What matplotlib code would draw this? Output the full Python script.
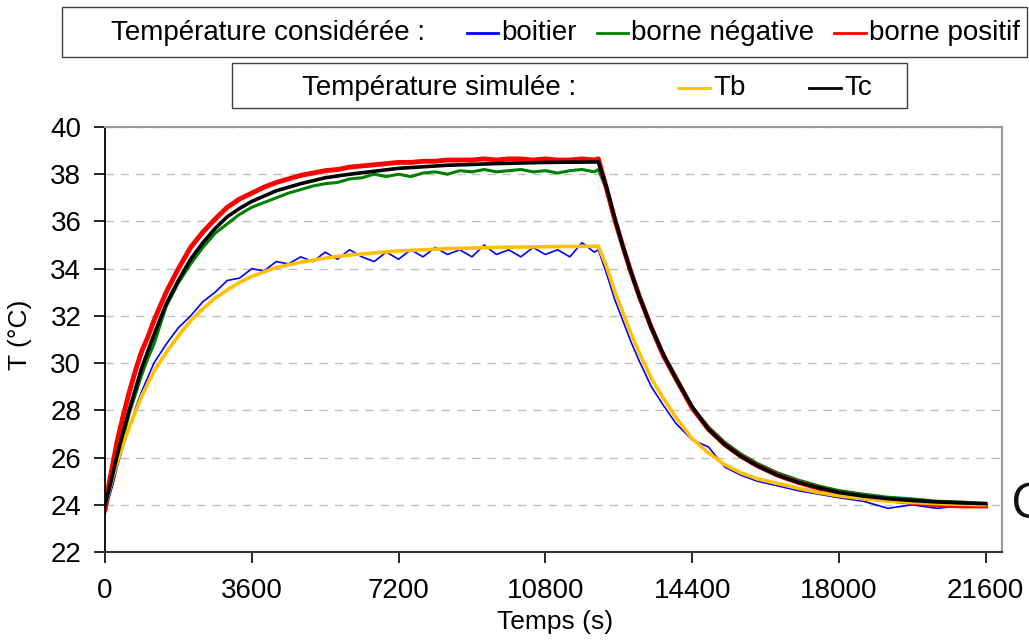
import matplotlib
matplotlib.use('Agg')
import matplotlib.pyplot as plt
from matplotlib.patches import Rectangle
from matplotlib.lines import Line2D

plt.rcParams['font.family'] = ['Liberation Sans', 'DejaVu Sans']

# temps des mesures (s)
t_mes = [0, 100, 200, 300, 450, 600, 750, 900, 1050, 1200,
         1500, 1800, 2100, 2400, 2700, 3000, 3300, 3600, 3900, 4200,
         4500, 4800, 5100, 5400, 5700, 6000, 6300, 6600, 6900, 7200,
         7500, 7800, 8100, 8400, 8700, 9000, 9300, 9600, 9900, 10200,
         10500, 10800, 11100, 11400, 11700, 12000, 12100,
         12300, 12500, 12700, 12900, 13100, 13400, 13700, 14000, 14400,
         14800, 15200, 15600, 16000, 16500, 17000, 17500, 18000, 18600, 19200,
         19800, 20400, 21000, 21600]

boitier = [23.6, 24.3, 24.9, 25.6, 26.5, 27.3, 28.1, 28.8, 29.4, 30.0,
           30.8, 31.5, 32.0, 32.6, 33.0, 33.5, 33.6, 34.0, 33.9, 34.3,
           34.2, 34.5, 34.3, 34.7, 34.4, 34.8, 34.5, 34.3, 34.7, 34.4,
           34.8, 34.5, 34.9, 34.6, 34.8, 34.5, 35.0, 34.6, 34.8, 34.5,
           34.9, 34.6, 34.8, 34.5, 35.1, 34.7, 34.8,
           33.8, 32.7, 31.8, 30.9, 30.1, 29.0, 28.2, 27.45, 26.75,
           26.45, 25.6, 25.25, 25.0, 24.8, 24.6, 24.45, 24.3, 24.15, 23.85,
           24.0, 23.85, 23.95, 23.95]

borne_neg = [23.9, 24.5, 25.2, 25.9, 26.9, 27.9, 28.7, 29.5, 30.2, 30.8,
             32.4, 33.4, 34.2, 34.9, 35.5, 35.9, 36.3, 36.6, 36.8, 37.0,
             37.2, 37.35, 37.5, 37.6, 37.65, 37.8, 37.85, 38.0, 37.9, 38.0,
             37.9, 38.05, 38.1, 38.0, 38.15, 38.1, 38.2, 38.1, 38.15, 38.2,
             38.1, 38.15, 38.05, 38.15, 38.2, 38.1, 38.2,
             37.35, 36.1, 34.95, 33.9, 32.9, 31.55, 30.35, 29.45, 28.15,
             27.3, 26.65, 26.15, 25.75, 25.35, 25.05, 24.8, 24.6, 24.45, 24.32,
             24.25, 24.15, 24.12, 24.05]

borne_pos = [23.8, 24.9, 25.8, 26.7, 27.8, 28.8, 29.7, 30.5, 31.1, 31.8,
             33.0, 34.0, 34.9, 35.55, 36.1, 36.6, 36.95, 37.2, 37.45, 37.65,
             37.8, 37.95, 38.05, 38.15, 38.2, 38.3, 38.35, 38.4, 38.45, 38.5,
             38.5, 38.55, 38.55, 38.6, 38.6, 38.6, 38.65, 38.6, 38.65, 38.65,
             38.6, 38.65, 38.6, 38.6, 38.65, 38.6, 38.65,
             37.4, 36.1, 34.95, 33.85, 32.85, 31.5, 30.3, 29.35, 28.1,
             27.2, 26.55, 26.05, 25.65, 25.25, 24.95, 24.7, 24.5, 24.33, 24.2,
             24.1, 24.0, 23.95, 23.95]

# temps de la simulation (s)
t_sim = [0, 150, 300, 450, 600, 900, 1200, 1500, 1800, 2100, 2400, 2700,
         3000, 3300, 3600, 4200, 4800, 5400, 6000, 7200, 8400, 9600, 10800, 12100,
         12300, 12500, 12700, 12900, 13100, 13400, 13700, 14000, 14400, 14800,
         15200, 15600, 16000, 16500, 17000, 17500, 18000, 18600, 19200, 19800,
         20400, 21000, 21600]

Tb = [24.0, 24.9, 25.8, 26.6, 27.3, 28.6, 29.65, 30.45, 31.15, 31.8, 32.3, 32.75,
      33.1, 33.42, 33.67, 34.05, 34.27, 34.45, 34.58, 34.75, 34.85, 34.9, 34.93, 34.95,
      34.1, 33.05, 32.15, 31.25, 30.45, 29.35, 28.5, 27.7, 26.8, 26.2,
      25.7, 25.35, 25.1, 24.9, 24.7, 24.52, 24.38, 24.25, 24.16, 24.1,
      24.05, 24.02, 24.0]

Tc = [24.0, 25.0, 26.1, 27.1, 28.05, 29.8, 31.2, 32.5, 33.5, 34.4, 35.1, 35.7,
      36.2, 36.55, 36.85, 37.3, 37.6, 37.85, 38.0, 38.25, 38.38, 38.45, 38.5, 38.52,
      37.45, 36.15, 34.95, 33.85, 32.85, 31.5, 30.35, 29.35, 28.15, 27.2,
      26.55, 26.05, 25.65, 25.25, 24.95, 24.72, 24.52, 24.37, 24.26, 24.18,
      24.12, 24.08, 24.05]

x_ticks = [0, 3600, 7200, 10800, 14400, 18000, 21600]
y_ticks = [22, 24, 26, 28, 30, 32, 34, 36, 38, 40]

W, H = 1029, 640
fig = plt.figure(figsize=(W / 100, H / 100), dpi=100)
ax = fig.add_axes([105 / W, 1 - 552 / H, (1002 - 105) / W, (552 - 127) / H])

l_b, = ax.plot(t_mes, boitier, color='#0000FF', lw=1.2)
l_n, = ax.plot(t_mes, borne_neg, color='#008000', lw=2.2)
l_p, = ax.plot(t_mes, borne_pos, color='#FF0000', lw=3.5)
l_tb, = ax.plot(t_sim, Tb, color='#FFC000', lw=2.6)
l_tc, = ax.plot(t_sim, Tc, color='#000000', lw=2.6)

ax.set_xlim(0, 22000)
ax.set_ylim(22, 40)
ax.set_xticks(x_ticks)
ax.set_yticks(y_ticks)
ax.tick_params(axis='both', direction='out', length=8, width=1.2, labelsize=20)
ax.tick_params(axis='x', pad=11)
ax.tick_params(axis='y', pad=9)
ax.yaxis.grid(True, color='#c0c0c0', linestyle=(0, (6, 5)), lw=1)
ax.set_axisbelow(True)

for s in ['top', 'right']:
    ax.spines[s].set_color('#999999')
    ax.spines[s].set_linewidth(1.5)
ax.spines['left'].set_color('black')
ax.spines['bottom'].set_color('#333333')
ax.spines['left'].set_linewidth(1.3)
ax.spines['bottom'].set_linewidth(1.5)

ax.set_xlabel('Temps (s)', fontsize=19)
ax.xaxis.set_label_coords((555 - 105) / 897, (552 - 622) / 425)
ax.xaxis.label.set_va('center')
ax.set_ylabel('T (°C)', fontsize=19)
ax.yaxis.label.set_va('center')
ax.yaxis.set_label_coords((20 - 105) / 897, (552 - 335) / 425)


def fx(x):
    return x / W


def fy(y):
    return 1 - y / H


# cadres de légende
fig.add_artist(Rectangle((fx(62), fy(57)), (1027 - 62) / W, 50 / H,
                         transform=fig.transFigure, fill=False,
                         edgecolor='#404040', lw=1))
fig.add_artist(Rectangle((fx(232), fy(108)), (907 - 232) / W, 45 / H,
                         transform=fig.transFigure, fill=False,
                         edgecolor='#404040', lw=1))

fig.text(fx(111), fy(33), 'Température considérée :', fontsize=20, va='center')
fig.text(fx(302), fy(88), 'Température simulée :', fontsize=20, va='center')

entries = [(l_b, 'boitier', 467, 498, 33),
           (l_n, 'borne négative', 597, 628, 33),
           (l_p, 'borne positif', 834, 866, 33),
           (l_tb, 'Tb', 678, 710, 88),
           (l_tc, 'Tc', 809, 841, 88)]
for line, label, x0, x1, y in entries:
    fig.add_artist(Line2D([fx(x0), fx(x1)], [fy(y), fy(y)],
                          transform=fig.transFigure,
                          color=line.get_color(), lw=2))
    fig.text(fx(x1 + 3), fy(y), label, fontsize=20, va='center')

fig.text(fx(1011), fy(505), 'C', fontsize=36, family=['Open Sans', 'DejaVu Sans'],
         va='center', ha='left', color='#111111')

fig.savefig('out.png', dpi=100)
